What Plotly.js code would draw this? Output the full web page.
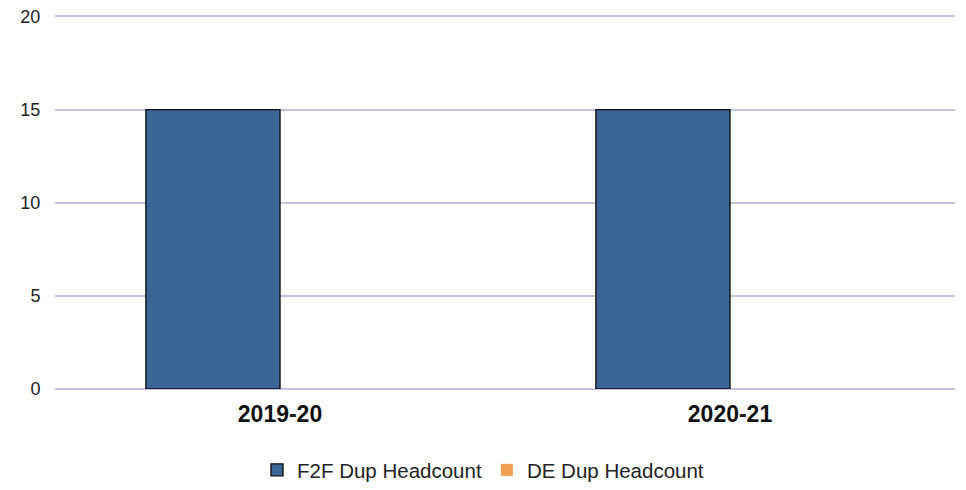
<!DOCTYPE html>
<html><head><meta charset="utf-8">
<script src="https://cdn.plot.ly/plotly-3.0.1.min.js"></script>
<style>html,body{margin:0;padding:0;background:#fff;}#chart{width:966px;height:490px;}</style>
</head><body><div id="chart"></div>
<script>
const categories = ["2019-20", "2020-21"];
const f2fValues = [15, 15];
const deValues = [0, 0];
const seriesNames = ["F2F Dup Headcount", "DE Dup Headcount"];

const traces = [
  {type:'bar', name:seriesNames[0], x:categories, y:f2fValues,
   marker:{color:'#3a6596', line:{color:'#111', width:1.4}}},
  {type:'bar', name:seriesNames[1], x:categories, y:deValues,
   marker:{color:'#f0a050', line:{color:'#111', width:0}}}
];
const layout = {
  width:966, height:490,
  margin:{l:55, r:11, t:8.5, b:101},
  paper_bgcolor:'#fff', plot_bgcolor:'#fff',
  font:{family:'Liberation Sans, Arial, sans-serif', color:'#222', size:18},
  barmode:'group', bargap:0.404, bargroupgap:0,
  showlegend:true,
  legend:{orientation:'h', x:0.5, xanchor:'center', xref:'container',
          y:-0.018, yanchor:'bottom', yref:'container',
          font:{size:20.5, color:'#222'}, traceorder:'normal'},
  xaxis:{type:'category', automargin:false, showgrid:false, zeroline:false, showline:false,
         tickfont:{size:23, color:'#111', weight:'bold'}, ticks:'outside', ticklen:4, tickcolor:'rgba(0,0,0,0)'},
  yaxis:{range:[0,20.4], tickvals:[0,5,10,15,20], automargin:false, showgrid:true, gridcolor:'#c4c4dc', gridwidth:1.5,
         zeroline:true, zerolinecolor:'#c4c4dc', zerolinewidth:1.5, showline:false,
         ticks:'outside', ticklen:10, tickcolor:'rgba(0,0,0,0)', tickfont:{size:18, color:'#222'}}
};
Plotly.newPlot('chart', traces, layout, {displayModeBar:false});
</script></body></html>
